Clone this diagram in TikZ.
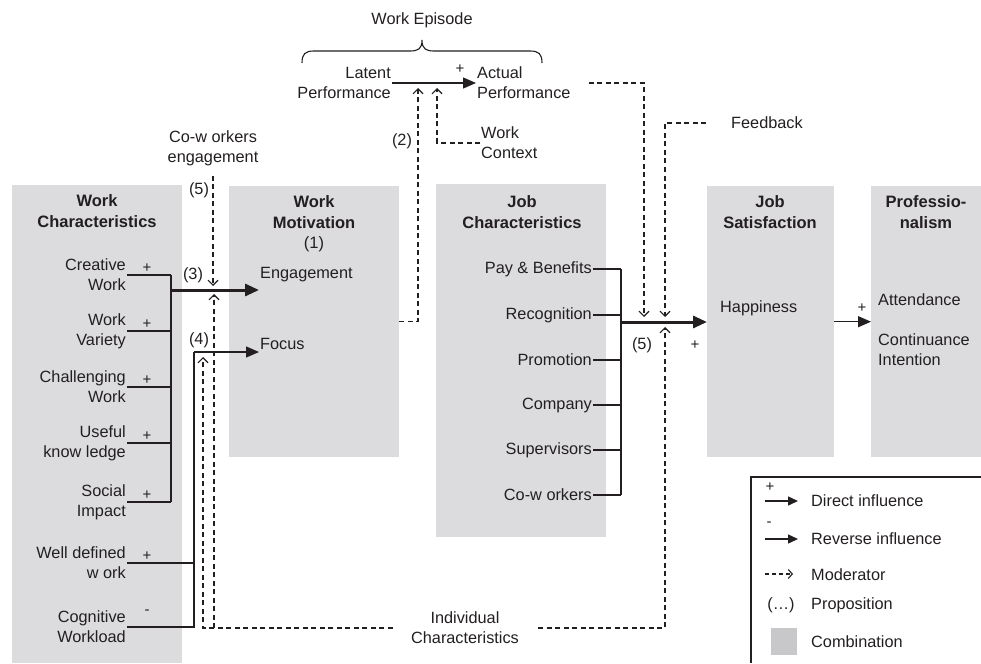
\documentclass[tikz,border=0pt]{standalone}
\usepackage{fontspec}
\setmainfont{Liberation Sans}
\usetikzlibrary{arrows.meta}
\definecolor{boxgray}{RGB}{220,220,222}
\definecolor{leggray}{RGB}{200,200,202}
\definecolor{ink}{RGB}{35,31,32}
\begin{document}
\begin{tikzpicture}[x=1pt,y=-1pt,
  box/.style={fill=boxgray, draw=none, inner sep=0pt, anchor=north west},
  lbl/.style={font=\fontsize{16.3}{19.8}\selectfont, text=ink, inner sep=1pt},
  ttl/.style={font=\fontsize{16.5}{20.5}\selectfont\bfseries, text=ink, inner sep=1pt, align=center},
  sgn/.style={font=\fontsize{15}{16}\selectfont, text=ink, inner sep=0pt},
  ln/.style={draw=ink, line width=1.3pt},
  thk/.style={draw=ink, line width=3pt, -{Triangle[length=14pt,width=12pt]}},
  arr/.style={draw=ink, line width=1.3pt, -{Triangle[length=13pt,width=11pt]}},
  sarr/.style={draw=ink, line width=1.3pt, -{Triangle[length=10pt,width=9pt]}},
  modl/.style={draw=ink, line width=1.1pt, dash pattern=on 5pt off 3.5pt},
  mod/.style={modl, -{Straight Barb[length=5pt,width=10pt]}}
]
\useasboundingbox (0,0) rectangle (981,663);

% ---------- boxes ----------
\node[box, minimum width=170pt, minimum height=478pt] (wcbox) at (12,185) {};
\node[box, minimum width=170pt, minimum height=271pt] (wmbox) at (229,186) {};
\node[box, minimum width=170pt, minimum height=353pt] (jcbox) at (436,184) {};
\node[box, minimum width=127pt, minimum height=271pt] (jsbox) at (707,186) {};
\node[box, minimum width=110pt, minimum height=271pt] (prbox) at (871,186) {};

% ---------- titles ----------
\node[ttl] (t1) at (97,211) {Work\\Characteristics};
\node[ttl] (t2) at (314,224) {Work\\Motivation\\\mdseries (1)};
\node[ttl] (t3) at (522,212) {Job\\Characteristics};
\node[ttl] (t4) at (770,212) {Job\\Satisfaction};
\node[ttl] (t5) at (926,212) {Professio-\\nalism};

% ---------- work characteristics ----------
\node[lbl, anchor=east, align=right] (cw)  at (127,275) {Creative\\Work};
\node[lbl, anchor=east, align=right] (wv)  at (127,331) {Work\\Variety};
\node[lbl, anchor=east, align=right] (chw) at (127,387) {Challenging\\Work};
\node[lbl, anchor=east, align=right] (uk)  at (127,443) {Useful\\know ledge};
\node[lbl, anchor=east, align=right] (si)  at (127,502) {Social\\Impact};
\node[lbl, anchor=east, align=right] (wd)  at (127,563) {Well defined\\w ork};
\node[lbl, anchor=east, align=right] (cog) at (127,627) {Cognitive\\Workload};

\foreach \y in {268,324,380,436,495,556} \node[sgn] at (147,\y) {+};
\node[sgn] at (147,612) {-};

\coordinate (b3) at (171,290);
\coordinate (b4) at (194,352);

\foreach \n in {cw,wv,chw,uk,si} \draw[ln] (\n.east) -- (\n.east -| b3);
\draw[ln] (cw.east -| b3) -- (si.east -| b3);
\draw[ln] (wd.east) -- (wd.east -| b4);
\draw[ln] (cog.east) -| (b4);

\node[lbl, anchor=west] (eng) at (259,275) {Engagement};
\node[lbl, anchor=west] (foc) at (259,344) {Focus};
\draw[thk] (b3) -- (b3 -| eng.west);
\draw[arr] (b4) -- (b4 -| foc.west);

\node[lbl] (p3) at (193,275) {(3)};
\node[lbl] (p4) at (199,340) {(4)};
\node[lbl] (p5a) at (199,190) {(5)};

% co-workers engagement
\node[lbl, align=center] (cwe) at (213,148) {Co-w orkers\\engagement};
\draw[mod, shorten <=9pt, shorten >=4pt] (cwe.south) -- (cwe.south |- b3);

% individual characteristics
\node[lbl, align=center] (ic) at (465,628) {Individual\\Characteristics};
\coordinate (m4) at (203,352);
\coordinate (m3s) at (214,628);
\coordinate (m3) at (214,290);
\coordinate (m7) at (665,322);
\coordinate (m6) at (644,322);
\draw[mod, shorten <=17pt, shorten >=5pt] (ic.west) -| (m4);
\draw[mod, shorten >=4pt] (m3s) -- (m3);
\draw[mod, shorten <=18pt, shorten >=5pt] (ic.east) -| (m7);

% ---------- work episode ----------
\node[lbl] (we) at (422,20) {Work Episode};
\draw[draw=ink, line width=1.1pt] (302,63) .. controls (302,54) and (305,51) .. (314,51) -- (410,51)
  .. controls (418,51) and (422,49) .. (422,40) .. controls (422,49) and (426,51) .. (434,51)
  -- (530,51) .. controls (539,51) and (542,54) .. (542,63);
\node[lbl, anchor=east, align=right] (lp) at (392,83) {Latent\\Performance};
\node[lbl, anchor=west, align=left] (ap) at (476,83) {Actual\\Performance};
\draw[arr] (lp.east) -- (ap.west);
\node[sgn] at (460,69) {+};

\coordinate (m2) at (418,83);
\coordinate (mwc) at (437,83);
\node[lbl, anchor=west, align=left] (wc) at (480,143) {Work\\Context};
\draw[mod, shorten >=5pt] (wmbox.east) -| (m2);
\draw[mod, shorten >=5pt] (wc.west) -| (mwc);
\node[lbl] (p2) at (402,141) {(2)};

% ---------- job characteristics ----------
\node[lbl, anchor=east] (pb)  at (593,269) {Pay \& Benefits};
\node[lbl, anchor=east] (rec) at (593,315) {Recognition};
\node[lbl, anchor=east] (pro) at (593,360) {Promotion};
\node[lbl, anchor=east] (com) at (593,405) {Company};
\node[lbl, anchor=east] (sup) at (593,450) {Supervisors};
\node[lbl, anchor=east] (cwk) at (593,495) {Co-w orkers};
\coordinate (jb) at (621,322);
\foreach \n in {pb,rec,pro,com,sup,cwk} \draw[line width=1.1pt, draw=ink] (\n.east) -- (\n.east -| jb);
\draw[line width=1.1pt, draw=ink] (pb.east -| jb) -- (cwk.east -| jb);
\draw[thk] (jb) -- (jb -| jsbox.west);
\node[lbl] (p5b) at (642,345) {(5)};
\node[sgn] at (695,345) {+};

\node[lbl, anchor=west] (fb) at (730,123) {Feedback};
\draw[mod, shorten <=17pt, shorten >=5pt] (ap.east) -| (m6);
\draw[mod, shorten <=24pt, shorten >=5pt] (fb.west) -| (m7);

% ---------- job satisfaction / professionalism ----------
\node[lbl, anchor=west] (hap) at (719,308) {Happiness};
\node[lbl, anchor=west] (att) at (877,300) {Attendance};
\node[lbl, anchor=west, align=left] (ci) at (877,350) {Continuance\\Intention};
\draw[arr] (jsbox.east) -- (prbox.west);
\node[sgn] at (862,308) {+};

% ---------- legend ----------
\draw[draw=ink, line width=1.1pt] (981,477) -- (751,477) -- (751,663);
\coordinate (la1) at (765,501); \coordinate (lb1) at (798,501);
\coordinate (la2) at (765,539); \coordinate (lb2) at (798,539);
\coordinate (la3) at (765,574); \coordinate (lb3) at (793,574);
\node[sgn] at (770,487) {+};
\node[sgn] at (769,524) {-};
\draw[sarr] (la1) -- (lb1);
\draw[sarr] (la2) -- (lb2);
\draw[draw=ink, line width=1.1pt, dash pattern=on 4pt off 3pt, -{Straight Barb[length=4pt,width=9pt]}] (la3) -- (lb3);
\node[lbl, anchor=west] (l1) at (810,501) {Direct influence};
\node[lbl, anchor=west] (l2) at (810,539) {Reverse influence};
\node[lbl, anchor=west] (l3) at (810,575) {Moderator};
\node[lbl] (l4s) at (781,605) {(…)};
\node[lbl, anchor=west] (l4) at (810,605) {Proposition};
\node[fill=leggray, inner sep=0pt, minimum width=26pt, minimum height=27pt, anchor=north west] (l5s) at (771,628) {};
\node[lbl, anchor=west] (l5) at (810,642) {Combination};
\end{tikzpicture}
\end{document}
